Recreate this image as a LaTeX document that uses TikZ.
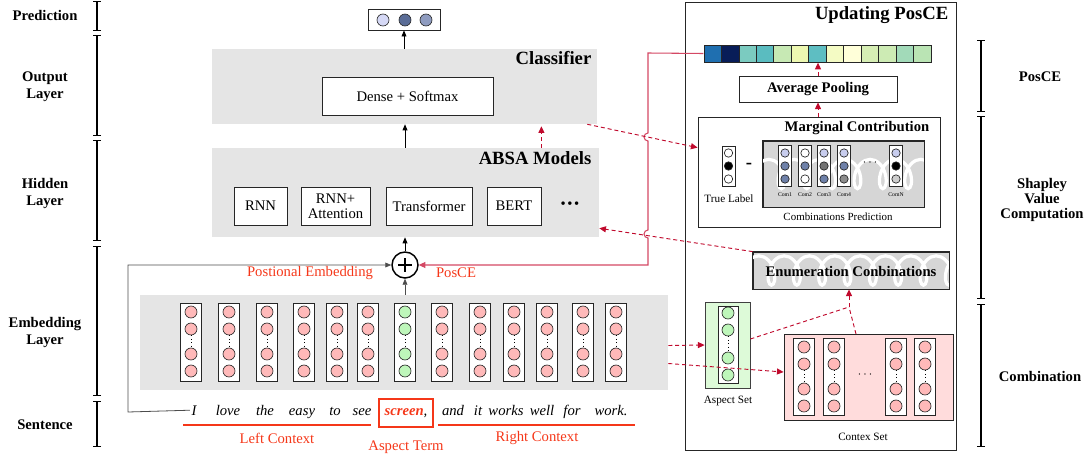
\documentclass[tikz,border=0pt]{standalone}
\usepackage{fontspec}
\setmainfont{Liberation Serif}
\usetikzlibrary{arrows.meta,decorations.pathmorphing,calc,fit}

\definecolor{bandgray}{RGB}{229,229,229}
\definecolor{ctxred}{RGB}{245,55,25}
\definecolor{dred}{RGB}{192,10,45}
\definecolor{lred}{RGB}{212,72,100}
\definecolor{pinkc}{RGB}{255,185,185}
\definecolor{greenc}{RGB}{190,246,186}
\definecolor{aspfill}{RGB}{221,250,216}
\definecolor{ctxfill}{RGB}{255,220,220}
\definecolor{scrib}{RGB}{214,214,214}
\definecolor{o1}{RGB}{213,216,245}
\definecolor{o2}{RGB}{90,108,150}
\definecolor{o3}{RGB}{143,156,192}
\definecolor{cl}{RGB}{200,205,238}
\definecolor{cm}{RGB}{110,128,168}
\definecolor{cg}{RGB}{115,115,115}
\definecolor{cgl}{RGB}{140,140,140}
\definecolor{cli}{RGB}{205,205,205}
\definecolor{bc1}{RGB}{31,111,176}
\definecolor{bc2}{RGB}{8,29,88}
\definecolor{bc3}{RGB}{123,203,192}
\definecolor{bc4}{RGB}{90,188,192}
\definecolor{bc5}{RGB}{199,233,180}
\definecolor{bc6}{RGB}{237,248,177}
\definecolor{bc7}{RGB}{94,190,194}
\definecolor{bc8}{RGB}{244,251,196}
\definecolor{bc9}{RGB}{255,255,217}
\definecolor{bc10}{RGB}{214,238,180}
\definecolor{bc11}{RGB}{205,235,180}
\definecolor{bc12}{RGB}{162,218,185}
\definecolor{bc13}{RGB}{186,228,180}

\newcommand\myscribble[4]{%
  \begin{scope}
    \clip (#1,#2) rectangle (#3,#4);
    \begin{scope}[shift={({(#1+#3)/2},{(#2+#4)/2})}, xslant=0.7]
    \draw[white, line width=2.4pt, decorate,
      decoration={coil,aspect=0.6,segment length=19pt,amplitude=11pt}]
      ({-(#3-#1)/2-60},0) -- ({(#3-#1)/2+60},0);
    \end{scope}
  \end{scope}}

\tikzset{
  lbl/.style={font=\fontsize{11}{12.75}\selectfont\bfseries, align=center},
  brk/.style={line width=1pt, {Bar[width=6pt]}-{Bar[width=6pt]}},
  band/.style={fill=bandgray, draw=none, inner sep=0},
  wbox/.style={draw=black!85, fill=white, line width=0.6pt, inner sep=0},
  boxtxt/.style={font=\fontsize{11}{11.5}\selectfont, align=center, inner sep=0},
  bigtitle/.style={font=\fontsize{14}{16}\selectfont\bfseries, anchor=east},
  midtitle/.style={font=\fontsize{11}{13}\selectfont\bfseries},
  circ/.style={circle, draw=black!85, line width=0.5pt, minimum size=9pt, inner sep=0},
  scirc/.style={circle, draw=black!85, line width=0.5pt, minimum size=6.3pt, inner sep=0},
  colbox/.style={draw=black!85, fill=white, line width=0.6pt, inner sep=0},
  cell/.style={draw=black!85, line width=0.6pt, inner sep=0},
  barr/.style={-{Triangle[length=4.5pt,width=3.6pt]}, line width=0.6pt},
  rdash/.style={dred, line width=0.7pt, dash pattern=on 3pt off 2.2pt,
    -{Triangle[length=5pt,width=4.5pt]}},
  rdashn/.style={dred, line width=0.7pt, dash pattern=on 3pt off 2.2pt},
  word/.style={font=\fontsize{11}{12}\selectfont\itshape, anchor=base, inner sep=1pt},
  redtxt/.style={font=\fontsize{11}{12}\selectfont, text=ctxred},
  small/.style={font=\fontsize{8.4}{10}\selectfont},
  tiny/.style={font=\fontsize{4.3}{5}\selectfont},
}

\begin{document}
\begin{tikzpicture}[x=0.75pt,y=-0.75pt]
\useasboundingbox (0,0) rectangle (1085,454);

% ---------- left brackets ----------
\draw[brk] (97,1) -- (97,31);
\draw[brk] (97,35) -- (97,136);
\draw[brk] (97,140) -- (97,241);
\draw[brk] (97,246) -- (97,396);
\draw[brk] (97,401) -- (97,447);
\node[lbl] (lpred) at (45,15) {Prediction};
\node[lbl] (lout) at (45,87) {Output\\Layer};
\node[lbl] (lhid) at (45,193) {Hidden\\Layer};
\node[lbl] (lemb) at (45,332) {Embedding\\Layer};
\node[lbl] (lsen) at (45,425) {Sentence};

% ---------- right brackets ----------
\draw[brk] (981,40) -- (981,112);
\draw[brk] (981,116) -- (981,299);
\draw[brk] (981,304) -- (981,447);
\node[lbl] (rpos) at (1040,77) {PosCE};
\node[lbl, font=\fontsize{11}{11.25}\selectfont\bfseries] (rsha) at (1042,200) {Shapley\\Value\\Computation};
\node[lbl] (rcom) at (1040,376) {Combination};

% ---------- output ----------
\node[colbox, fit={(368,9) (440,30)}] (outbox) {};
\node[circ, fill=o1] (o1n) at (383,20) {};
\node[circ, fill=o2] (o2n) at (405,20) {};
\node[circ, fill=o3] (o3n) at (426,20) {};

% ---------- classifier ----------
\node[band, fit={(212,49) (597,124)}] (cls) {};
\node[bigtitle] (clst) at (596,58) {Classifier};
\node[wbox, fit={(322,77) (493,115)}] (dense) {};
\node[boxtxt] (denset) at (dense.center) {Dense + Softmax};

% ---------- ABSA ----------
\node[band, fit={(212,148) (599,237)}] (absa) {};
\node[bigtitle] (absat) at (596,158) {ABSA Models};
\node[wbox, fit={(234,187) (287,225)}] (rnn) {};
\node[boxtxt] (rnnt) at (rnn.center) {RNN};
\node[wbox, fit={(301,187) (370,225)}] (rnna) {};
\node[boxtxt] (rnnat) at (rnna.center) {RNN+\\Attention};
\node[wbox, fit={(386,187) (472,225)}] (trf) {};
\node[boxtxt] (trft) at (trf.center) {Transformer};
\node[wbox, fit={(487,187) (541,225)}] (bert) {};
\node[boxtxt] (bertt) at (bert.center) {BERT};
\node[font=\fontsize{11}{12}\selectfont] (more) at (570,205) {\textbullet\hspace{1.2pt}\textbullet\hspace{1.2pt}\textbullet};

% ---------- plus ----------
\node[circle, draw, line width=1.1pt, minimum size=19.5pt, inner sep=0, fill=white] (plus) at (405,265) {};
\draw[line width=1.7pt] ($(plus.center)+(-7,0)$) -- ($(plus.center)+(7,0)$);
\draw[line width=1.7pt] ($(plus.center)+(0,-7)$) -- ($(plus.center)+(0,7)$);
\node[redtxt] (pe) at (310,273) {Postional Embedding};
\node[redtxt] (pce) at (456,273) {PosCE};

% ---------- embedding ----------
\node[band, fit={(140,295) (668,390)}] (emb) {};
\foreach \x [count=\i] in {191,229,267,304,337,368,405,442,480,514,547,583,616} {
  \ifnum\i=7 \def\fc{greenc}\else\def\fc{pinkc}\fi
  \node[colbox, fit={({\x-10.5},303) ({\x+10.5},381)}] (ec\i) {};
  \node[circ, fill=\fc] (ec\i-1) at (\x,312) {};
  \node[circ, fill=\fc] (ec\i-2) at (\x,329) {};
  \node[circ, fill=\fc] (ec\i-3) at (\x,354) {};
  \node[circ, fill=\fc] (ec\i-4) at (\x,371) {};
  \draw[dotted, line width=0.6pt] (ec\i-2.south) -- (ec\i-3.north);
}

% ---------- sentence ----------
\node[word] (w1) at (194,415) {I};
\node[word] (w2) at (228,415) {love};
\node[word] (w3) at (265,415) {the};
\node[word] (w4) at (302,415) {easy};
\node[word] (w5) at (335,415) {to};
\node[word] (w6) at (362,415) {see};
\node[word] (w7) at (406,415) {\textbf{\color{ctxred}screen},};
\node[word] (w8) at (453,415) {and};
\node[word] (w9) at (478,415) {it};
\node[word] (w10) at (506,415) {works};
\node[word] (w11) at (542,415) {well};
\node[word] (w12) at (572,415) {for};
\node[word] (w13) at (611,415) {work.};
\node[draw=ctxred, line width=1.3pt, inner sep=0, fit={(379,399) (433,427)}] (aspbox) {};
\draw[ctxred, line width=1.5pt] (183,425) -- (371,425);
\draw[ctxred, line width=1.5pt] (438,425) -- (635,425);
\node[redtxt] (lctx) at (277,438) {Left Context};
\node[redtxt] (aterm) at (406,447) {Aspect Term};
\node[redtxt] (rctx) at (537,438) {Right Context};

% ---------- left connectors ----------
\draw[barr, black!70] (w1.west) -- (128,412) -- (128,265) -- (plus.west);
\draw[barr, black!70] (plus |- emb.north) -- (plus.south);
\draw[barr] (plus.north) -- (plus |- absa.south);
\draw[barr] (plus |- absa.north) -- (plus |- cls.south);
\draw[barr] (outbox.south |- cls.north) -- (outbox.south);
\draw[rdash] (bert.east |- absa.north) -- ($(bert.east |- cls.south)+(0,2)$);

% ---------- right panel ----------
\node[draw=black!85, line width=0.6pt, inner sep=0, fit={(685,2) (956,450)}] (panel) {};
\node[bigtitle] (panelt) at (953,15) {Updating PosCE};

\foreach \c [count=\i from 0] in {bc1,bc2,bc3,bc4,bc5,bc6,bc7,bc8,bc9,bc10,bc11,bc12,bc13} {
  \node[cell, fill=\c, fit={({704+\i*17.46},45) ({704+(\i+1)*17.46},62)}] (cell\i) {};
}
\node[inner sep=0, fit=(cell0) (cell12)] (bar) {};

\node[wbox, fit={(739,76) (897,102)}] (avg) {};
\node[midtitle, inner sep=0] (avgt) at (avg.center) {Average Pooling};

\node[colbox, fit={(698,117) (940,227)}] (marg) {};
\node[midtitle, anchor=east] (margt) at (934,128) {Marginal Contribution};
\node[colbox, fit={(722,146) (735,186)}] (tl) {};
\node[scirc, fill=white] (tl1) at (728.5,153) {};
\node[scirc, fill=black] (tl2) at (728.5,166) {};
\node[scirc, fill=white] (tl3) at (728.5,179) {};
\node[font=\fontsize{14}{14}\selectfont\bfseries] (minus) at (749,166) {-};
\node[small] (tlt) at (729,199) {True Label};

\node[draw=black!85, fill=scrib, line width=0.6pt, inner sep=0, fit={(763,141) (924,207)}] (cp) {};
\myscribble{763}{141}{924}{207}
\draw[black!85, line width=0.6pt] (cp.north west) rectangle (cp.south east);
\foreach \x/\a/\b/\c/\n [count=\i] in {785/cl/cm/cm/Com1, 805/white/cm/white/Com2, 824/cl/cg/cm/Com3, 844/cl/cm/cgl/Com4, 896/cl/black/cli/ComN} {
  \node[colbox, fit={({\x-6.5},145) ({\x+6.5},186)}] (cc\i) {};
  \node[scirc, fill=\a] (cc\i-1) at (\x,153) {};
  \node[scirc, fill=\b] (cc\i-2) at (\x,166) {};
  \node[scirc, fill=\c] (cc\i-3) at (\x,179) {};
  \node[tiny] (ccl\i) at (\x,195) {\n};
}
\node[font=\fontsize{9}{10}\selectfont] (cdots) at (870,163) {$\cdots$};
\node[small, font=\fontsize{8.2}{10}\selectfont] (cpt) at (838,217) {Combinations Prediction};

\node[draw=black!85, fill=scrib, line width=0.6pt, inner sep=0, fit={(753,252) (949,289)}] (enum) {};
\myscribble{753}{252}{949}{289}
\draw[black!85, line width=0.6pt] (enum.north west) rectangle (enum.south east);
\node[midtitle] (enumt) at (851,271) {Enumeration Conbinations};

% aspect set
\node[draw=black!75, fill=aspfill, line width=0.6pt, inner sep=0, fit={(705,302) (750,388)}] (asp) {};
\node[colbox, fit={(718,306) (738,383)}] (aspc) {};
\node[circ, fill=greenc] (as1) at (728,313) {};
\node[circ, fill=greenc] (as2) at (728,330) {};
\node[circ, fill=greenc] (as3) at (728,358) {};
\node[circ, fill=greenc] (as4) at (728,375) {};
\draw[dotted, line width=0.6pt] (as2.south) -- (as3.north);
\node[small] (aspt) at (728,401) {Aspect Set};

% context set
\node[draw=black!85, fill=ctxfill, line width=0.6pt, inner sep=0, fit={(784,334) (953,420)}] (ctx) {};
\foreach \x [count=\i] in {804,834,896,925} {
  \node[colbox, fit={({\x-10.5},338) ({\x+10.5},415)}] (xc\i) {};
  \node[circ, fill=pinkc] (xc\i-1) at (\x,347) {};
  \node[circ, fill=pinkc] (xc\i-2) at (\x,364) {};
  \node[circ, fill=pinkc] (xc\i-3) at (\x,389) {};
  \node[circ, fill=pinkc] (xc\i-4) at (\x,406) {};
  \draw[dotted, line width=0.6pt] (xc\i-2.south) -- (xc\i-3.north);
}
\node[font=\fontsize{9}{10}\selectfont] (xdots) at (865,375) {$\cdots$};
\node[small] (ctxt) at (863,437) {Contex Set};

% ---------- right connectors ----------
\coordinate (rtop) at (648,53);
\coordinate (rbot) at (648,265);
\draw[lred, line width=0.8pt, -{Triangle[length=5pt,width=4.5pt]}]
  (bar.west) -- (rtop) -- (648,133) arc[start angle=90, end angle=270, radius=3pt]
  -- (648,230) arc[start angle=90, end angle=270, radius=3pt]
  -- (rbot) -- (plus.east);
\draw[rdash] ($(cls.south east)+(-10,0)$) -- ($(marg.north west)+(0,31)$);
\draw[rdash] (enum.north west) -- ($(absa.south east)+(0,-9)$);
\draw[rdash] (marg.north -| avg.north) -- (avg.south);
\draw[rdash] (avg.north) -- (avg.north |- bar.south);
\draw[rdash] ($(emb.east)+(0,3)$) -- (asp.west);
\draw[rdash] ($(emb.east)+(0,21)$) -- ($(ctx.west)+(0,-5)$);
\coordinate (J) at (849,307);
\draw[rdashn] ($(asp.east)+(0,-6)$) -- (J);
\draw[rdashn] (856,334) -- (J);
\draw[rdash] (J) -- (enum.south -| J);
\end{tikzpicture}
\end{document}
